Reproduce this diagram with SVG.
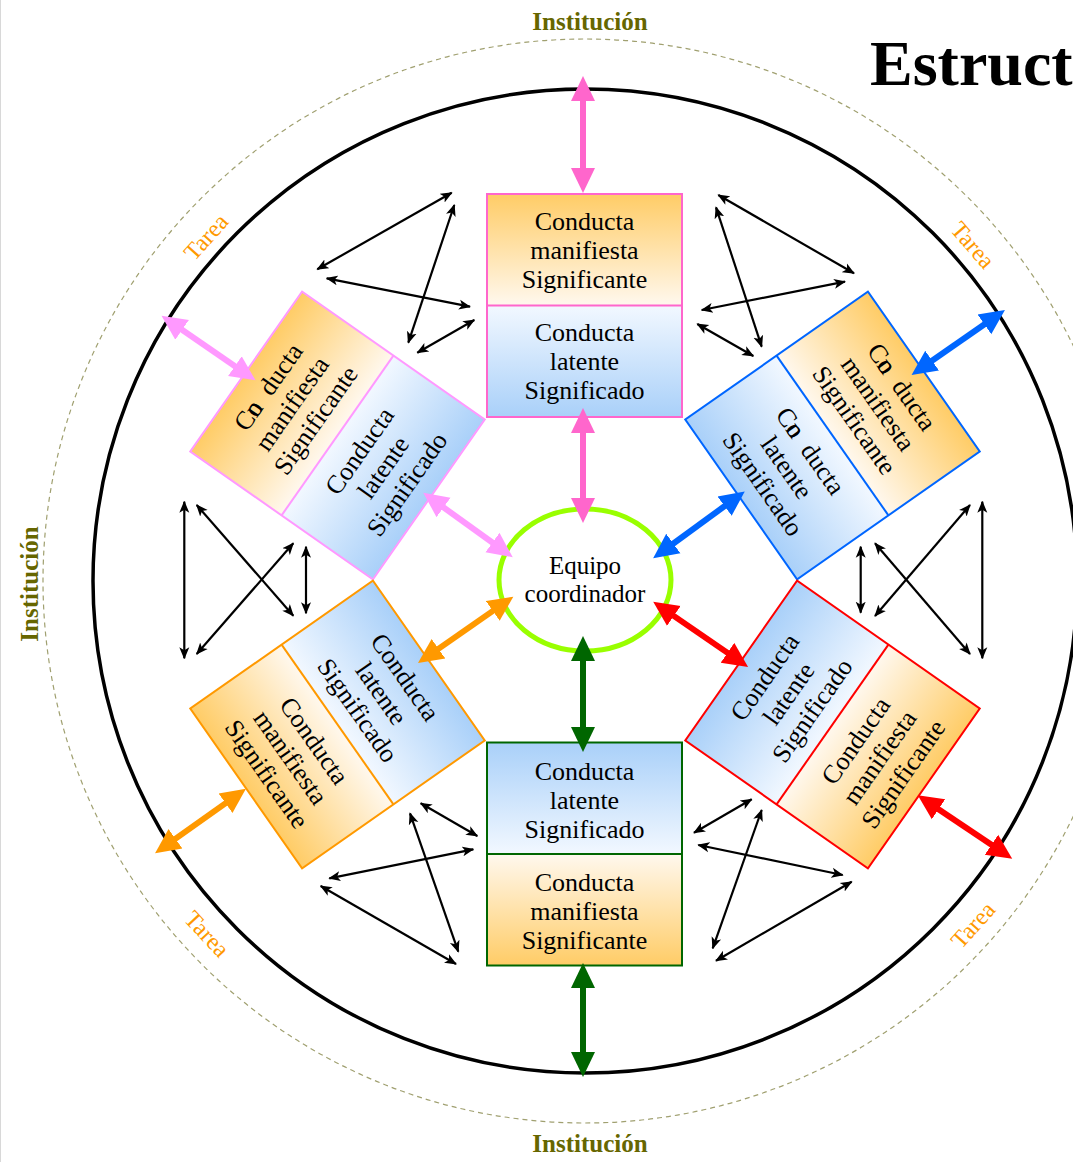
<svg xmlns="http://www.w3.org/2000/svg" width="1073" height="1162" viewBox="0 0 1073 1162">
<style>
.t{font-family:"Liberation Serif","DejaVu Serif",serif;font-size:26px;fill:#000;text-anchor:middle}
.inst{font-family:"Liberation Serif","DejaVu Serif",serif;font-size:25px;font-weight:bold;fill:#666600;text-anchor:middle}
.tarea{font-family:"Liberation Serif","DejaVu Serif",serif;font-size:24px;fill:#ff9900;text-anchor:middle}
.bl{stroke:#000;stroke-width:2.2;fill:none;marker-start:url(#mk);marker-end:url(#mk)}
.frame{fill:none;stroke-width:2}
</style>
<defs>
<linearGradient id="oDown" x1="0" y1="0" x2="0" y2="1"><stop offset="0" stop-color="#ffcc66"/><stop offset="1" stop-color="#fff8ee"/></linearGradient>
<linearGradient id="oUp" x1="0" y1="1" x2="0" y2="0"><stop offset="0" stop-color="#ffcc66"/><stop offset="1" stop-color="#fff8ee"/></linearGradient>
<linearGradient id="bDown" x1="0" y1="0" x2="0" y2="1"><stop offset="0" stop-color="#f2f8ff"/><stop offset="1" stop-color="#a9d0f9"/></linearGradient>
<linearGradient id="bUp" x1="0" y1="1" x2="0" y2="0"><stop offset="0" stop-color="#f2f8ff"/><stop offset="1" stop-color="#a9d0f9"/></linearGradient>
<marker id="mk" viewBox="0 -6 12 12" markerWidth="12" markerHeight="12" refX="11" refY="0" markerUnits="userSpaceOnUse" orient="auto-start-reverse"><path d="M0,-5 L12,0 L0,5 L3,0 z" fill="#000"/></marker>
<marker id="mPink" viewBox="0 -13 26 26" markerWidth="26" markerHeight="26" refX="5" refY="0" markerUnits="userSpaceOnUse" orient="auto-start-reverse"><path d="M0,-12 L25,0 L0,12 z" fill="#ff66cc"/></marker>
<marker id="mLilac" viewBox="0 -13 26 26" markerWidth="26" markerHeight="26" refX="5" refY="0" markerUnits="userSpaceOnUse" orient="auto-start-reverse"><path d="M0,-12 L25,0 L0,12 z" fill="#ff99ff"/></marker>
<marker id="mBlue" viewBox="0 -13 26 26" markerWidth="26" markerHeight="26" refX="5" refY="0" markerUnits="userSpaceOnUse" orient="auto-start-reverse"><path d="M0,-12 L25,0 L0,12 z" fill="#0066ff"/></marker>
<marker id="mOrange" viewBox="0 -13 26 26" markerWidth="26" markerHeight="26" refX="5" refY="0" markerUnits="userSpaceOnUse" orient="auto-start-reverse"><path d="M0,-12 L25,0 L0,12 z" fill="#ff9900"/></marker>
<marker id="mRed" viewBox="0 -13 26 26" markerWidth="26" markerHeight="26" refX="5" refY="0" markerUnits="userSpaceOnUse" orient="auto-start-reverse"><path d="M0,-12 L25,0 L0,12 z" fill="#ff0000"/></marker>
<marker id="mGreen" viewBox="0 -13 26 26" markerWidth="26" markerHeight="26" refX="5" refY="0" markerUnits="userSpaceOnUse" orient="auto-start-reverse"><path d="M0,-12 L25,0 L0,12 z" fill="#006600"/></marker>
</defs>
<rect x="0" y="0" width="1073" height="1162" fill="#fff"/>
<line x1="0.5" y1="0" x2="0.5" y2="1162" stroke="#d8d8d8" stroke-width="1"/>

<g id="background">
<circle cx="585" cy="581" r="542" fill="none" stroke="#a0a070" stroke-width="1.2" stroke-dasharray="5,4"/>
<circle cx="585" cy="581" r="492" fill="none" stroke="#000" stroke-width="3.5"/>
<text x="870" y="85" style="font-family:'Liberation Serif','DejaVu Serif',serif;font-size:64px;font-weight:bold;fill:#000">Estruct</text>
<text class="inst" x="590" y="30">Institución</text>
<text class="inst" x="590" y="1152">Institución</text>
<text class="inst" transform="translate(38,584) rotate(-90)">Institución</text>
<text class="tarea" transform="translate(206,237) rotate(-48)" y="8">Tarea</text>
<text class="tarea" transform="translate(973,245) rotate(49)" y="8">Tarea</text>
<text class="tarea" transform="translate(207,934) rotate(47)" y="8">Tarea</text>
<text class="tarea" transform="translate(973,925) rotate(-48)" y="8">Tarea</text>
</g>

<g id="node-top" transform="translate(584.5,305.5)">
<rect x="-97.5" y="-111.5" width="195" height="111.5" fill="url(#oDown)"/>
<rect x="-97.5" y="0" width="195" height="111.5" fill="url(#bDown)"/>
<rect class="frame" x="-97.5" y="-111.5" width="195" height="223" stroke="#ff66cc"/>
<line x1="-97.5" y1="0" x2="97.5" y2="0" stroke="#ff66cc" stroke-width="2"/>
<text class="t" y="-76">Conducta</text><text class="t" y="-47">manifiesta</text><text class="t" y="-18">Significante</text>
<text class="t" y="35.5">Conducta</text><text class="t" y="64.5">latente</text><text class="t" y="93.5">Significado</text>
</g>

<g id="node-top-left" transform="translate(337.5,435.5) rotate(-55)">
<rect x="-97.5" y="-111.5" width="195" height="111.5" fill="url(#oDown)"/>
<rect x="-97.5" y="0" width="195" height="111.5" fill="url(#bDown)"/>
<rect class="frame" x="-97.5" y="-111.5" width="195" height="223" stroke="#ff99ff"/>
<line x1="-97.5" y1="0" x2="97.5" y2="0" stroke="#ff99ff" stroke-width="2"/>
<text class="t" y="-76">Co<tspan dx="-13">n</tspan><tspan dx="13">ducta</tspan></text><text class="t" y="-47">manifiesta</text><text class="t" y="-18">Significante</text>
<text class="t" y="35.5">Conducta</text><text class="t" y="64.5">latente</text><text class="t" y="93.5">Significado</text>
</g>

<g id="node-top-right" transform="translate(832.5,435.5) rotate(55)">
<rect x="-97.5" y="-111.5" width="195" height="111.5" fill="url(#oDown)"/>
<rect x="-97.5" y="0" width="195" height="111.5" fill="url(#bDown)"/>
<rect class="frame" x="-97.5" y="-111.5" width="195" height="223" stroke="#0066ff"/>
<line x1="-97.5" y1="0" x2="97.5" y2="0" stroke="#0066ff" stroke-width="2"/>
<text class="t" y="-76">Co<tspan dx="-13">n</tspan><tspan dx="13">ducta</tspan></text><text class="t" y="-47">manifiesta</text><text class="t" y="-18">Significante</text>
<text class="t" y="35.5">Co<tspan dx="-13">n</tspan><tspan dx="13">ducta</tspan></text><text class="t" y="64.5">latente</text><text class="t" y="93.5">Significado</text>
</g>

<g id="node-bottom" transform="translate(584.5,854)">
<rect x="-97.5" y="-111.5" width="195" height="111.5" fill="url(#bUp)"/>
<rect x="-97.5" y="0" width="195" height="111.5" fill="url(#oUp)"/>
<rect class="frame" x="-97.5" y="-111.5" width="195" height="223" stroke="#006600"/>
<line x1="-97.5" y1="0" x2="97.5" y2="0" stroke="#006600" stroke-width="2"/>
<text class="t" y="-74">Conducta</text><text class="t" y="-45">latente</text><text class="t" y="-16">Significado</text>
<text class="t" y="37">Conducta</text><text class="t" y="66">manifiesta</text><text class="t" y="95">Significante</text>
</g>

<g id="node-bottom-left" transform="translate(337.5,724.5) rotate(55)">
<rect x="-97.5" y="-111.5" width="195" height="111.5" fill="url(#bUp)"/>
<rect x="-97.5" y="0" width="195" height="111.5" fill="url(#oUp)"/>
<rect class="frame" x="-97.5" y="-111.5" width="195" height="223" stroke="#ff9900"/>
<line x1="-97.5" y1="0" x2="97.5" y2="0" stroke="#ff9900" stroke-width="2"/>
<text class="t" y="-74">Conducta</text><text class="t" y="-45">latente</text><text class="t" y="-16">Significado</text>
<text class="t" y="37">Conducta</text><text class="t" y="66">manifiesta</text><text class="t" y="95">Significante</text>
</g>

<g id="node-bottom-right" transform="translate(832.5,724.5) rotate(-55)">
<rect x="-97.5" y="-111.5" width="195" height="111.5" fill="url(#bUp)"/>
<rect x="-97.5" y="0" width="195" height="111.5" fill="url(#oUp)"/>
<rect class="frame" x="-97.5" y="-111.5" width="195" height="223" stroke="#ff0000"/>
<line x1="-97.5" y1="0" x2="97.5" y2="0" stroke="#ff0000" stroke-width="2"/>
<text class="t" y="-74">Conducta</text><text class="t" y="-45">latente</text><text class="t" y="-16">Significado</text>
<text class="t" y="37">Conducta</text><text class="t" y="66">manifiesta</text><text class="t" y="95">Significante</text>
</g>

<g id="node-center">
<ellipse cx="585" cy="580" rx="86" ry="71" fill="#fff" stroke="#99ff00" stroke-width="5"/>
<text class="t" x="585" y="574" style="font-size:25px">Equipo</text>
<text class="t" x="585" y="602" style="font-size:25px">coordinador</text>
</g>

<g id="connectors" fill="none">
<line x1="583" y1="96" x2="583" y2="173" stroke="#ff66cc" stroke-width="6" marker-start="url(#mPink)" marker-end="url(#mPink)"/>
<line x1="583" y1="428" x2="583" y2="503" stroke="#ff66cc" stroke-width="6" marker-start="url(#mPink)" marker-end="url(#mPink)"/>
<line x1="583" y1="983" x2="583" y2="1057" stroke="#006600" stroke-width="6" marker-start="url(#mGreen)" marker-end="url(#mGreen)"/>
<line x1="583" y1="656" x2="583" y2="732" stroke="#006600" stroke-width="6" marker-start="url(#mGreen)" marker-end="url(#mGreen)"/>
<line x1="178" y1="327" x2="239" y2="369" stroke="#ff99ff" stroke-width="6" marker-start="url(#mLilac)" marker-end="url(#mLilac)"/>
<line x1="439.5" y1="504.5" x2="496.5" y2="545.5" stroke="#ff99ff" stroke-width="6" marker-start="url(#mLilac)" marker-end="url(#mLilac)"/>
<line x1="669.3" y1="546.5" x2="728.6" y2="503.2" stroke="#0066ff" stroke-width="6" marker-start="url(#mBlue)" marker-end="url(#mBlue)"/>
<line x1="988.5" y1="321.5" x2="928" y2="363.5" stroke="#0066ff" stroke-width="6" marker-start="url(#mBlue)" marker-end="url(#mBlue)"/>
<line x1="496.9" y1="608.1" x2="434.4" y2="651.6" stroke="#ff9900" stroke-width="6" marker-start="url(#mOrange)" marker-end="url(#mOrange)"/>
<line x1="229.6" y1="800.4" x2="171.4" y2="841.6" stroke="#ff9900" stroke-width="6" marker-start="url(#mOrange)" marker-end="url(#mOrange)"/>
<line x1="669.7" y1="613.1" x2="731.6" y2="655.6" stroke="#ff0000" stroke-width="6" marker-start="url(#mRed)" marker-end="url(#mRed)"/>
<line x1="934.4" y1="806.4" x2="995.6" y2="847.6" stroke="#ff0000" stroke-width="6" marker-start="url(#mRed)" marker-end="url(#mRed)"/>

<line class="bl" x1="451.7" y1="192.7" x2="317.3" y2="269.3"/>
<line class="bl" x1="454.3" y1="205" x2="408.3" y2="342.7"/>
<line class="bl" x1="326.7" y1="278.3" x2="470" y2="306.7"/>
<line class="bl" x1="474.3" y1="320" x2="417.3" y2="352.7"/>

<line class="bl" x1="718.3" y1="195" x2="854" y2="273.3"/>
<line class="bl" x1="716" y1="207.3" x2="761.7" y2="346.7"/>
<line class="bl" x1="845" y1="281.7" x2="701.7" y2="310"/>
<line class="bl" x1="697.3" y1="324" x2="753.3" y2="356"/>

<line class="bl" x1="184.3" y1="501.7" x2="184.3" y2="658.3"/>
<line class="bl" x1="196.7" y1="505" x2="293.3" y2="615.7"/>
<line class="bl" x1="293.3" y1="543.3" x2="196.7" y2="654"/>
<line class="bl" x1="306" y1="546.7" x2="306" y2="613.3"/>

<line class="bl" x1="860.7" y1="546.7" x2="860.7" y2="612.7"/>
<line class="bl" x1="875" y1="543.3" x2="970" y2="654"/>
<line class="bl" x1="970" y1="505" x2="875" y2="616"/>
<line class="bl" x1="982.3" y1="501.7" x2="982.3" y2="658.3"/>

<line class="bl" x1="420.7" y1="803.3" x2="477.3" y2="836"/>
<line class="bl" x1="410" y1="813.3" x2="458.3" y2="951.7"/>
<line class="bl" x1="473.3" y1="849.3" x2="329.3" y2="878.3"/>
<line class="bl" x1="320.7" y1="886" x2="456" y2="964"/>

<line class="bl" x1="751.7" y1="799.3" x2="694" y2="832.7"/>
<line class="bl" x1="761.7" y1="810" x2="712.7" y2="948.3"/>
<line class="bl" x1="698.3" y1="845" x2="842.7" y2="875"/>
<line class="bl" x1="851.7" y1="881.7" x2="716" y2="960.7"/>
</g>
</svg>
